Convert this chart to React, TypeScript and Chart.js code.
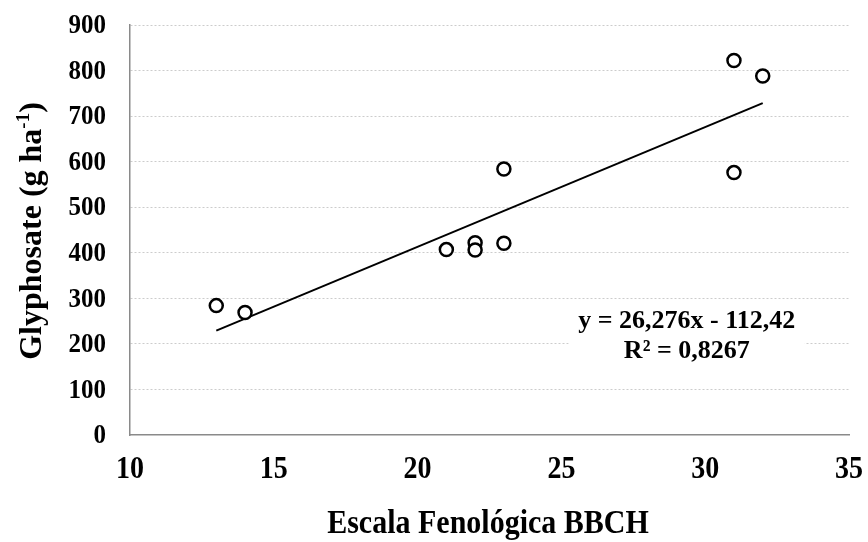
import React, { useEffect, useRef } from "react";
import { Chart, registerables } from "chart.js";

Chart.register(...registerables);

const stageX = [13, 14, 21, 22, 22, 23, 23, 31, 31, 32];
const doseY = [284, 269, 407, 422, 406, 421, 584, 822, 576, 788];
const trendX = [13, 32];
const trendY = [229.2, 728.4];
const xTicks = [10, 15, 20, 25, 30, 35];
const yTicks = [0, 100, 200, 300, 400, 500, 600, 700, 800, 900];
const equationLine1 = "y = 26,276x - 112,42";
const equationLine2 = "R² = 0,8267";
const xTitle = "Escala Fenológica BBCH";
const yTitleMain = "Glyphosate (g ha";
const yTitleSup = "-1";
const yTitleEnd = ")";

const FONT = "'Liberation Serif', 'Times New Roman', serif";

function stretchedText(ctx: any, text: string, x: number, y: number, sy: number) {
  ctx.save();
  ctx.translate(x, y);
  ctx.scale(1, sy);
  ctx.fillText(text, 0, 0);
  ctx.restore();
}

const textPlugin = {
  id: "customText",
  afterDraw(chart: any) {
    const ctx = chart.ctx;
    const xs = chart.scales.x;
    const ys = chart.scales.y;
    const area = chart.chartArea;
    ctx.save();
    ctx.fillStyle = "#000000";

    // y tick labels
    ctx.font = `bold 25px ${FONT}`;
    ctx.textAlign = "right";
    ctx.textBaseline = "middle";
    yTicks.forEach((v) => {
      stretchedText(ctx, String(v), area.left - 24, ys.getPixelForValue(v) + 1, 1.12);
    });

    // x tick labels
    ctx.font = `bold 28px ${FONT}`;
    ctx.textAlign = "center";
    xTicks.forEach((v) => {
      stretchedText(ctx, String(v), xs.getPixelForValue(v), 470, 1.12);
    });

    // equation box
    const cx = xs.getPixelForValue(29.36);
    const cy1 = ys.getPixelForValue(249);
    const cy2 = ys.getPixelForValue(183);
    ctx.fillStyle = "#ffffff";
    ctx.fillRect(cx - 118, cy1 - 20, 236, 70);
    ctx.fillStyle = "#000000";
    ctx.font = `bold 26px ${FONT}`;
    ctx.textAlign = "center";
    ctx.textBaseline = "middle";
    ctx.fillText(equationLine1, cx, cy1);
    ctx.fillText(equationLine2, cx, cy2);

    // x title
    ctx.font = `bold 30px ${FONT}`;
    stretchedText(ctx, xTitle, 488, 524, 1.1);

    // y title with superscript
    ctx.translate(30, 231);
    ctx.rotate(-Math.PI / 2);
    const mainFont = `bold 32px ${FONT}`;
    const supFont = `bold 19px ${FONT}`;
    ctx.font = mainFont;
    const w1 = ctx.measureText(yTitleMain).width;
    const w3 = ctx.measureText(yTitleEnd).width;
    ctx.font = supFont;
    const w2 = ctx.measureText(yTitleSup).width;
    const total = w1 + w2 + w3;
    const x0 = -total / 2;
    ctx.textAlign = "left";
    ctx.textBaseline = "alphabetic";
    ctx.font = mainFont;
    ctx.fillText(yTitleMain, x0, 11);
    ctx.font = supFont;
    ctx.fillText(yTitleSup, x0 + w1, -1);
    ctx.font = mainFont;
    ctx.fillText(yTitleEnd, x0 + w1 + w2, 11);
    ctx.restore();
  },
};

export default function App() {
  const ref = useRef<HTMLCanvasElement>(null);
  useEffect(() => {
    document.body.style.margin = "0";
    const canvas = ref.current!;
    const chart = new Chart(canvas, {
      type: "scatter",
      data: {
        datasets: [
          {
            type: "line",
            data: trendX.map((x, i) => ({ x, y: trendY[i] })),
            borderColor: "#000000",
            borderWidth: 2,
            pointRadius: 0,
            fill: false,
            order: 2,
          } as any,
          {
            type: "scatter",
            data: stageX.map((x, i) => ({ x, y: doseY[i] })),
            pointStyle: "circle",
            pointRadius: 6.5,
            pointBorderWidth: 2.5,
            pointBorderColor: "#000000",
            pointBackgroundColor: "#ffffff",
            order: 1,
          } as any,
        ],
      },
      options: {
        responsive: false,
        animation: false,
        layout: { padding: { top: 25, right: 19, left: 0, bottom: 0 } },
        plugins: { legend: { display: false }, tooltip: { enabled: false } },
        scales: {
          x: {
            type: "linear",
            min: xTicks[0],
            max: xTicks[xTicks.length - 1],
            afterBuildTicks: (s: any) => {
              s.ticks = xTicks.map((v) => ({ value: v }));
            },
            afterFit: (s: any) => {
              s.height = 107;
              s.paddingLeft = 0;
              s.paddingRight = 0;
            },
            grid: { display: false, drawTicks: false },
            border: { color: "#8a8a8a", width: 1.5 },
            ticks: { display: false },
          },
          y: {
            type: "linear",
            min: yTicks[0],
            max: yTicks[yTicks.length - 1],
            afterBuildTicks: (s: any) => {
              s.ticks = yTicks.map((v) => ({ value: v }));
            },
            afterFit: (s: any) => {
              s.width = 130;
              s.paddingTop = 0;
              s.paddingBottom = 0;
            },
            grid: {
              color: (c: any) => (c.tick && c.tick.value === 0 ? "rgba(0,0,0,0)" : "#cccccc"),
              lineWidth: 1,
              drawTicks: false,
            },
            border: { color: "#8a8a8a", width: 1.5, dash: [2, 2] },
            ticks: { display: false },
          },
        },
      },
      plugins: [textPlugin],
    } as any);
    return () => chart.destroy();
  }, []);
  return (
    <div style={{ width: 868, height: 542, background: "#fff" }}>
      <canvas ref={ref} width={868} height={542} />
    </div>
  );
}
